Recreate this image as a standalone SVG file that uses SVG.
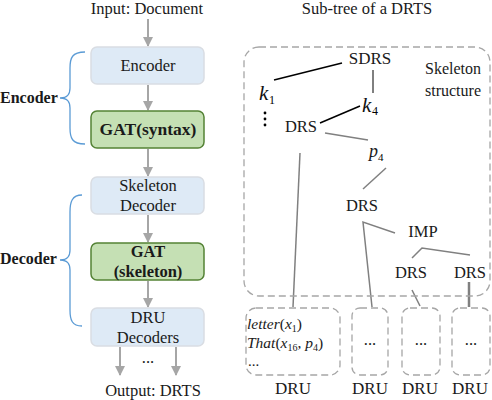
<svg xmlns="http://www.w3.org/2000/svg" width="492" height="400" viewBox="0 0 492 400">
<defs>
<style>
.t{font-size:16.5px;font-family:Liberation Serif,serif;fill:#1a1a1a}
.b{font-weight:bold}
.i{font-style:italic}
.kk{font-size:21px;font-style:italic;font-family:Liberation Serif,serif;fill:#111}
.sub{font-size:12px;font-family:Liberation Serif,serif}
.blue{fill:#deeaf6;stroke:#d9dde3;stroke-width:1.5}
.green{fill:#c5e0b4;stroke:#548235;stroke-width:1.5}
.arr{stroke:#a6a6a6;stroke-width:2;fill:none;marker-end:url(#ah)}
.brace{stroke:#5b9bd5;stroke-width:1.3;fill:none}
.dash{fill:none;stroke:#a6a6a6;stroke-width:1.3;stroke-dasharray:7 4}
.k{stroke:#000;fill:none}
.g{stroke:#808080;stroke-width:1.5;fill:none}
</style>
<marker id="ah" viewBox="0 0 10 10" refX="9" refY="5" markerWidth="5" markerHeight="5" orient="auto" markerUnits="strokeWidth">
<path d="M0,0 L10,5 L0,10 z" fill="#a6a6a6"/>
</marker>
</defs>
<rect width="492" height="400" fill="#fff"/>
<g font-family="Liberation Serif, serif">
<text class="t" x="147" y="14" text-anchor="middle">Input: Document</text>
<text class="t" x="367" y="14" text-anchor="middle">Sub-tree of a DRTS</text>
<g id="connectors">
<line class="arr" x1="148" y1="19" x2="148" y2="46"/>
<line class="arr" x1="148" y1="85" x2="148" y2="110"/>
<line class="arr" x1="148" y1="149" x2="148" y2="176"/>
<line class="arr" x1="148" y1="215" x2="148" y2="242"/>
<line class="arr" x1="148" y1="281" x2="148" y2="307"/>
<line class="arr" x1="120" y1="347" x2="120" y2="375"/>
<line class="arr" x1="176" y1="347" x2="176" y2="375"/>
<path class="brace" d="M85,52 C72,52 70,58 70,68 L70,88 C70,94 68,98 60,98 C68,98 70,102 70,108 L70,128 C70,138 72,144 85,144"/>
<path class="brace" d="M82,195 C72,195 70,202 70,212 L70,250 C70,256 68,260 60,260 C68,260 70,264 70,270 L70,310 C70,320 72,326 82,326"/>
<line class="k" x1="342" y1="63" x2="274" y2="80" stroke-width="1.8"/>
<line class="k" x1="373" y1="70" x2="373" y2="93" stroke-width="1"/>
<line class="k" x1="360" y1="106" x2="320" y2="123" stroke-width="1.5"/>
<line class="g" x1="325" y1="133" x2="368" y2="140"/>
<line class="g" x1="386" y1="168" x2="363" y2="189"/>
<line class="g" x1="300" y1="153" x2="293" y2="307"/>
<polyline class="g" points="372,307 363,222 395,233"/>
<polyline class="g" points="412,258 422,248 470,255"/>
<line class="g" x1="412" y1="290" x2="420" y2="306"/>
<line x1="469" y1="282" x2="469" y2="307" stroke="#808080" stroke-width="2.5"/>
</g>
<g id="encoder"><rect class="blue" x="91" y="47" width="113" height="37" rx="6"/><text class="t" x="148" y="71" text-anchor="middle">Encoder</text></g>
<g id="gat-syntax"><rect class="green" x="91" y="111" width="113" height="37" rx="6"/><text class="t b" x="148" y="135" text-anchor="middle" style="font-size:17.5px">GAT(syntax)</text></g>
<g id="skeleton-decoder"><rect class="blue" x="91" y="177" width="113" height="37" rx="6"/><text class="t" x="148" y="191" text-anchor="middle">Skeleton</text><text class="t" x="148" y="211" text-anchor="middle">Decoder</text></g>
<g id="gat-skeleton"><rect class="green" x="91" y="243" width="113" height="37" rx="6"/><text class="t b" x="148" y="257" text-anchor="middle">GAT</text><text class="t b" x="148" y="277" text-anchor="middle">(skeleton)</text></g>
<g id="dru-decoders"><rect class="blue" x="91" y="308" width="113" height="38" rx="6"/><text class="t" x="148" y="323" text-anchor="middle">DRU</text><text class="t" x="148" y="343" text-anchor="middle">Decoders</text></g>
<text class="t" x="148" y="363" text-anchor="middle">...</text>
<text class="t" x="153" y="396" text-anchor="middle">Output: DRTS</text>
<text class="t b" x="0" y="103" style="font-size:16px">Encoder</text>
<text class="t b" x="0" y="264" style="font-size:16px">Decoder</text>
<g id="skeleton-structure">
<rect class="dash" x="244" y="47" width="246" height="249" rx="15"/>
<text class="t" x="453" y="74" text-anchor="middle" style="font-size:16px">Skeleton</text>
<text class="t" x="453" y="96" text-anchor="middle" style="font-size:16px">structure</text>
</g>
<g id="sdrs"><text class="t" x="370" y="64" text-anchor="middle" style="font-size:17px">SDRS</text></g>
<g id="k1"><text class="kk" x="259" y="100">k</text><text class="sub" x="269" y="104">1</text></g>
<g id="k4"><text class="kk" x="362" y="112">k</text><text class="sub" x="372" y="115">4</text></g>
<g id="vdots"><circle cx="265" cy="113" r="1.4" fill="#000"/><circle cx="265" cy="119" r="1.4" fill="#000"/><circle cx="265" cy="125" r="1.4" fill="#000"/></g>
<g id="drs1"><text class="t" x="301" y="132" text-anchor="middle">DRS</text></g>
<g id="p4"><text class="t i" x="369" y="157" style="font-size:18px">p</text><text class="sub" x="378" y="161" style="font-size:11px">4</text></g>
<g id="drs2"><text class="t" x="362" y="211" text-anchor="middle">DRS</text></g>
<g id="imp"><text class="t" x="423" y="237" text-anchor="middle">IMP</text></g>
<g id="drs3"><text class="t" x="411" y="278" text-anchor="middle">DRS</text></g>
<g id="drs4"><text class="t" x="470" y="278" text-anchor="middle">DRS</text></g>
<g id="dru1">
<rect class="dash" x="246" y="308" width="94" height="67" rx="10"/>
<text class="t" x="247" y="329" style="font-size:15.5px"><tspan class="i">letter</tspan>(<tspan class="i">x</tspan><tspan class="sub" style="font-size:10px" dy="3">1</tspan><tspan dy="-3">)</tspan></text>
<text class="t" x="247" y="348" style="font-size:15.5px"><tspan class="i">That</tspan>(<tspan class="i">x</tspan><tspan class="sub" style="font-size:10px" dy="3">16</tspan><tspan dy="-3">, </tspan><tspan class="i">p</tspan><tspan class="sub" style="font-size:10px" dy="3">4</tspan><tspan dy="-3">)</tspan></text>
<text class="t" x="248" y="366" style="font-size:15px">...</text>
<text class="t" x="293" y="394" text-anchor="middle" style="font-size:17px">DRU</text>
</g>
<g id="dru2"><rect class="dash" x="352" y="308" width="36" height="67" rx="8"/><text class="t" x="370" y="345" text-anchor="middle">...</text><text class="t" x="370" y="394" text-anchor="middle" style="font-size:17px">DRU</text></g>
<g id="dru3"><rect class="dash" x="402" y="308" width="38" height="67" rx="8"/><text class="t" x="421" y="345" text-anchor="middle">...</text><text class="t" x="420" y="394" text-anchor="middle" style="font-size:17px">DRU</text></g>
<g id="dru4"><rect class="dash" x="452" y="308" width="38" height="67" rx="8"/><text class="t" x="471" y="345" text-anchor="middle">...</text><text class="t" x="470" y="394" text-anchor="middle" style="font-size:17px">DRU</text></g>
</g>
</svg>
